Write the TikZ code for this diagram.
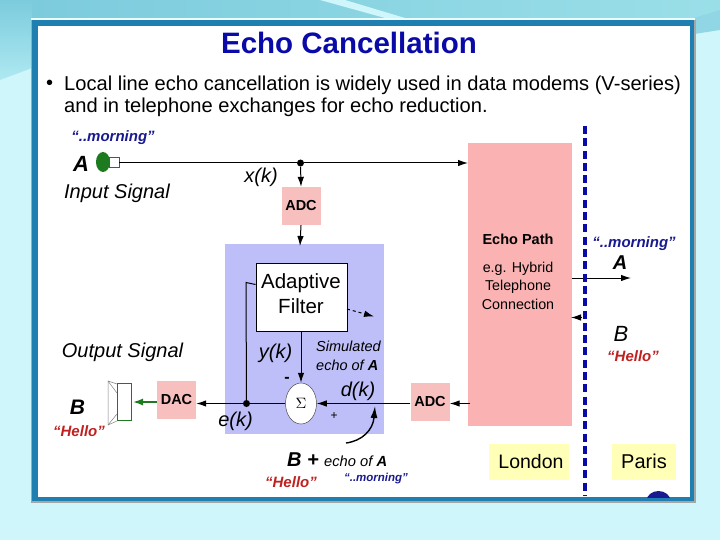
\documentclass[tikz,border=0pt]{standalone}
\usepackage{fontspec}
\setmainfont{Liberation Sans}
\usepackage{amsmath}
\usepackage{graphicx}
\usetikzlibrary{arrows.meta,shapes.geometric}
\definecolor{bgc}{HTML}{CFF6FA}
\definecolor{frame}{HTML}{1F7FB0}
\definecolor{tealtop}{HTML}{7CCBDD}
\definecolor{tealr}{HTML}{9ADFE8}
\definecolor{teall}{HTML}{62CBDD}
\definecolor{pinkc}{HTML}{FBB2B2}
\definecolor{adcc}{HTML}{F8BFBF}
\definecolor{bluec}{HTML}{BEBEF8}
\definecolor{yelc}{HTML}{FFFFB8}
\definecolor{titlec}{HTML}{0A0AA8}
\definecolor{navyc}{HTML}{1A1A90}
\definecolor{redc}{HTML}{C02020}
\definecolor{greenc}{HTML}{1E7A1E}
\tikzset{
 x=1pt,y=-1pt,
 conv/.style={fill=adcc,font=\fontsize{14.5}{17}\selectfont\bfseries,inner sep=0,minimum width=39,minimum height=38},
 arr/.style={draw=black,line width=1,-{Latex[length=10,width=6.5]}},
 lbl/.style={inner sep=0,font=\fontsize{20}{24}\selectfont\itshape},
 qr/.style={inner sep=0,text=redc,font=\fontsize{15}{18}\selectfont\bfseries\itshape},
 qb/.style={inner sep=0,text=navyc,font=\fontsize{15}{18}\selectfont\bfseries\itshape},
 dotc/.style={circle,fill=black,inner sep=0,minimum size=7},
}
\begin{document}
\begin{tikzpicture}
\useasboundingbox (0,0) rectangle (720,540);
\fill[bgc] (0,0) rectangle (720,540);
% top background decoration
\shade[left color=tealtop,right color=tealr] (32,0) rectangle (720,20);
\shade[top color=tealtop,middle color=teall,bottom color=bgc!70!teall] (0,0) -- (32,0) -- (32,68) -- (0,80) -- cycle;
\fill[tealtop!75!bgc] (694,18) -- (720,10) -- (720,30) -- (694,34) -- cycle;
\fill[bgc] (320,0) -- (345,0) -- (405,18) -- (385,18) -- cycle;
% frame
\fill[white!60!bgc] (31,18) rectangle (695,21);
\fill[gray!70] (31,20) rectangle (696,503);
\fill[frame] (32,20) rectangle (694,501);
\fill[white] (38,26) rectangle (690,497);
% title
\node[inner sep=0,text=titlec,font=\fontsize{29.5}{34}\selectfont\bfseries] (title) at (349,43) {Echo Cancellation};
\node[inner sep=0,anchor=west,font=\fontsize{20}{24}\selectfont] (b1) at (46,85) {•};
\node[inner sep=0,anchor=west,font=\fontsize{20.1}{24}\selectfont] (l1) at (64,85) {Local line echo cancellation is widely used in data modems (V-series)};
\node[inner sep=0,anchor=west,font=\fontsize{20.1}{24}\selectfont] (l2) at (64,107.5) {and in telephone exchanges for echo reduction.};
% blocks
\fill[bluec] (225,244) rectangle (384,434);
\node[fill=pinkc,inner sep=0,minimum width=104,minimum height=283,anchor=north west] (echo) at (468,143) {};
\node[inner sep=0,font=\fontsize{14.5}{17}\selectfont\bfseries] (ep) at (518,239) {Echo Path};
\node[inner sep=0,align=center,font=\fontsize{14.3}{18.5}\selectfont] (eg) at (518,285.5) {e.g. Hybrid\\Telephone\\Connection};
\node[conv] (adc1) at (301,206) {ADC};
\node[conv] (adc2) at (430,402) {\raisebox{-2.5pt}{ADC}};
\node[conv] (dac) at (176.5,400) {\raisebox{-3pt}{DAC}};
\node[draw=black,line width=1,fill=white,inner sep=0,minimum width=91,minimum height=68,anchor=north west] (af) at (255.5,262.5) {};
\node[inner sep=0,align=center,font=\fontsize{20.5}{25}\selectfont] (aft) at (301,294) {Adaptive\\Filter};
\node[ellipse,draw=black!70,line width=0.5,fill=white,inner sep=0,minimum width=31,minimum height=41] (sum) at (301,403.5) {\scalebox{1.5}{$\Sigma$}};
% source / line
\node[draw=greenc,fill=white,inner sep=0,minimum width=10,minimum height=10] (mic) at (114,162) {};
\node[ellipse,fill=greenc,inner sep=0,minimum width=14,minimum height=20] (micb) at (103,162) {};
\node[dotc] (d1) at (300.5,163) {};
\draw[line width=1] (mic.east |- d1) -- (d1);
\coordinate (e1) at (468,163);
\draw[arr] (d1) -- (e1);
\draw[arr] (d1) -- (adc1.north);
\coordinate (b1top) at (300,246);
\draw[arr] (adc1.south) -- (b1top);
\coordinate (out1) at (631,278);
\coordinate (e2) at (572,278);
\draw[arr] (e2) -- (out1);
\coordinate (in2) at (582,317.5);
\coordinate (e3) at (571,317.5);
\draw[arr] (in2) -- (e3);
\node[dotc] (d2) at (246.5,403.5) {};
\coordinate (e4) at (470,403.5);
\draw[arr] (e4) -- (adc2.east |- e4);
\draw[arr] (adc2.west |- e4) -- (sum.east);
\draw[arr] (sum.west) -- (d2.center) -- (dac.east |- d2);
\draw[line width=1] (d2.center) -- (246,282.5) -- (255.5,284.5);
\draw[arr] (af.south -| sum) -- (sum.north);
\coordinate (sp) at (133,402);
\draw[draw=greenc,line width=1.6,-{Latex[length=10,width=7]}] (dac.west |- sp) -- (sp);
% diagonal adaptive arrow
\coordinate (ad) at (374,316.5);
\coordinate (ad0) at (347,309);
\draw[arr,dashed] (ad0) -- (ad);
% curved arrow
\coordinate (cv1) at (346,443);
\coordinate (cv2) at (375,406);
\draw[draw=black,line width=1.4,-{Latex[length=12,width=7]}] (cv1) .. controls (362,441) and (373,430) .. (cv2);
% speaker
\node[draw=greenc,line width=0.8,fill=white,inner sep=0,minimum width=14,minimum height=37] (spk) at (124.5,402) {};
\draw[gray,line width=0.5] (117,384) -- (108,381) -- (108,425) -- (117,421);
\draw[gray,line width=0.5] (108,381) -- (117,393);
\draw[gray,line width=0.5] (108,425) -- (117,414);
% dashed divider
\coordinate (dv1) at (585,126);
\coordinate (dv2) at (585,496);
\draw[draw=titlec,line width=4,dash pattern=on 8 off 4.3] (dv1) -- (dv2);
% labels
\node[qb] (t1) at (113,137.5) {“..morning”};
\node[inner sep=0,font=\fontsize{22}{26}\selectfont\bfseries\itshape] (tA) at (81,164) {A};
\node[lbl] (is) at (117,193) {Input Signal};
\node[lbl] (xk) at (261,177) {x(k)};
\node[qb] (t2) at (634,243.5) {“..morning”};
\node[inner sep=0,font=\fontsize{20}{24}\selectfont\bfseries\itshape] (tA2) at (620,263) {A};
\node[lbl,font=\fontsize{22}{26}\selectfont\itshape] (tB2) at (621,334) {B};
\node[qr] (t3) at (633,356.5) {“Hello”};
\node[lbl] (os) at (122.5,352.5) {Output Signal};
\node[inner sep=0,font=\fontsize{21}{25}\selectfont\bfseries\itshape] (tB) at (77.5,407.5) {B};
\node[qr] (t4) at (79,431) {“Hello”};
\node[lbl] (yk) at (275.5,353.5) {y(k)};
\node[inner sep=0,align=left,font=\fontsize{14.5}{19}\selectfont\itshape,anchor=west] (sim) at (316,355.5) {Simulated\\echo of \textbf{A}};
\node[lbl] (dk) at (358,391.5) {d(k)};
\node[lbl] (ek) at (235.5,421) {e(k)};
\node[inner sep=0,font=\fontsize{16}{19}\selectfont\bfseries] (mn) at (287,380) {-};
\node[inner sep=0,font=\fontsize{12}{14}\selectfont] (pl) at (334,416) {+};
\node[inner sep=0,anchor=west,font=\fontsize{20}{24}\selectfont\bfseries\itshape] (bp) at (287,460) {B +};
\node[inner sep=0,anchor=west,font=\fontsize{14.7}{18}\selectfont\itshape] (ea) at (324,461.5) {echo of \textbf{A}};
\node[qr] (t5) at (291,482.5) {“Hello”};
\node[qb,font=\fontsize{11.5}{14}\selectfont\bfseries\itshape] (t6) at (376,478.5) {“..morning”};
\node[fill=yelc,inner sep=0,minimum width=80,minimum height=36] (lon) at (528.5,461.5) {};
\node[inner sep=0,font=\fontsize{19.5}{23}\selectfont] (lont) at (531,461.5) {London};
\node[fill=yelc,inner sep=0,minimum width=64,minimum height=36,font=\fontsize{20}{24}\selectfont] (par) at (644,461.5) {Paris};
\begin{scope}
\clip (38,26) rectangle (690,497);
\fill[navyc] (658.5,501) ellipse (12 and 10);
\end{scope}
\end{tikzpicture}
\end{document}
